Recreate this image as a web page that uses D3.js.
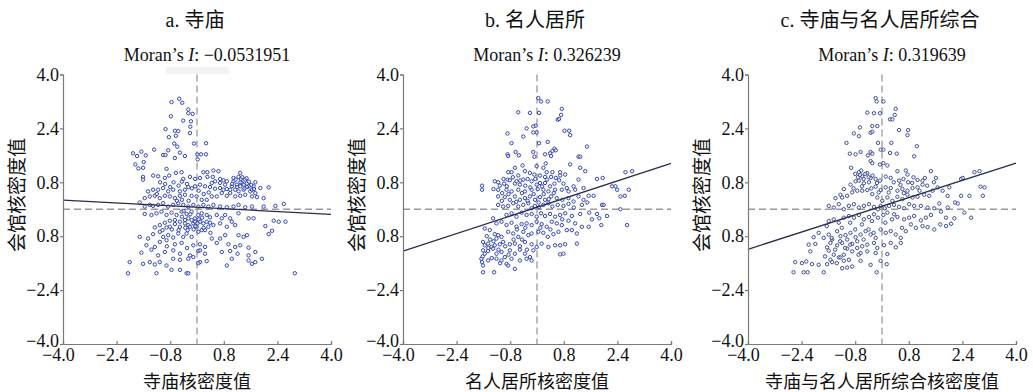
<!DOCTYPE html>
<html>
<head>
<meta charset="utf-8">
<script src="https://cdn.jsdelivr.net/npm/d3@7"></script>
<style>
  body { margin: 0; background: #fff; }
  svg text { font-family: "Liberation Serif", "Noto Sans CJK SC", serif; fill: #111; }
</style>
</head>
<body>
<svg id="chart" width="1033" height="392"></svg>
<script>
// values
const panelTitles = ['a. 寺庙', 'b. 名人居所', 'c. 寺庙与名人居所综合'];
const moranLabels = ['\u22120.0531951', '0.326239', '0.319639'];
const xTitles = ['寺庙核密度值', '名人居所核密度值', '寺庙与名人居所综合核密度值'];
const yTitle = '会馆核密度值';
const ticks = [-4, -2.4, -0.8, 0.8, 2.4, 4];
const xTickLabels = ['\u22124.0', '\u22122.4', '\u22120.8', '0.8', '2.4', '4.0'];
const yTickLabels = ['\u22124.0', '\u22122.4', '0.8', '0.8', '2.4', '4.0'];
const slopes = [-0.0531951, 0.326239, 0.319639];
const intercepts = [0.06, 0.06, 0.09];

const pointsA = [
  [-0.76,3.18],[-0.53,3.28],[-0.44,3.16],[-0.26,2.96],[-0.26,2.85],[-0.13,2.83],[-0.78,2.76],[-0.41,2.63],
  [-0.18,2.61],[-0.20,2.45],[-0.94,2.38],[-0.66,2.33],[-0.56,2.32],[-0.63,2.18],[-0.21,2.26],[-0.84,2.14],
  [0.27,1.96],[-0.09,1.95],[-0.68,1.95],[-0.59,1.86],[-0.51,1.68],[-0.86,1.75],[-1.28,1.77],[-1.91,1.66],
  [-1.79,1.58],[-1.66,1.71],[-1.53,1.60],[-1.84,1.33],[-1.75,1.21],[-1.61,1.23],[-1.59,1.40],[-1.01,1.61],
  [-0.94,1.61],[-0.66,1.52],[-0.36,1.58],[0.01,1.63],[0.12,1.63],[0.27,1.63],[0.02,1.48],[-0.91,1.20],
  [-1.61,0.96],[-1.61,0.88],[-1.31,1.00],[-1.16,0.98],[-0.96,0.93],[-0.83,1.00],[-0.63,1.08],[-0.46,1.10],
  [-0.41,0.90],[-0.21,0.96],[-0.06,0.90],[0.09,0.93],[0.19,1.10],[0.31,1.10],[0.49,1.15],[0.64,1.13],
  [0.31,0.96],[0.47,0.96],[0.69,0.90],[0.79,0.86],[0.89,0.83],[1.09,0.93],[1.29,1.08],[1.34,0.78],
  [1.44,0.88],[1.49,0.76],[1.54,0.68],[1.29,0.68],[1.74,0.80],[2.14,0.65],[1.89,0.63],[1.59,0.53],
  [1.39,0.58],[1.24,0.53],[1.19,0.73],[1.04,0.68],[0.89,0.60],[0.79,0.58],[0.69,0.63],[0.54,0.61],
  [0.39,0.66],[0.24,0.68],[0.09,0.73],[-0.06,0.68],[-0.26,0.66],[-0.36,0.58],[-0.51,0.53],[-0.71,0.58],
  [-0.86,0.53],[-1.01,0.63],[-1.16,0.58],[-1.31,0.58],[-1.46,0.53],[-1.56,0.33],[-1.41,0.38],[-1.26,0.40],
  [-1.11,0.33],[-0.96,0.40],[-0.81,0.38],[-0.66,0.33],[-0.51,0.40],[-0.36,0.43],[-0.16,0.40],[-0.01,0.38],
  [0.14,0.28],[0.29,0.28],[0.44,0.38],[0.59,0.38],[0.74,0.48],[0.89,0.40],[0.99,0.48],[1.14,0.38],
  [1.29,0.40],[1.44,0.43],[1.64,0.38],[1.79,0.36],[1.99,0.33],[-1.71,0.20],[-1.56,0.08],[-1.41,0.13],
  [-1.31,0.10],[-1.16,0.13],[-1.01,0.18],[-0.86,0.08],[-0.71,0.13],[-0.56,0.18],[-0.41,0.13],[-0.26,0.08],
  [-0.11,0.13],[0.04,0.08],[0.19,0.13],[0.34,0.08],[0.49,0.13],[0.69,0.08],[0.89,0.06],[1.09,0.08],
  [1.24,0.13],[1.44,0.06],[1.64,0.08],[1.99,0.08],[2.34,0.10],[2.59,0.16],[-1.56,-0.14],[-1.36,-0.17],
  [-1.21,-0.12],[-1.06,-0.07],[-0.91,-0.17],[-0.76,-0.10],[-0.61,-0.17],[-0.46,-0.07],[-0.31,-0.14],[-0.16,-0.07],
  [0.04,-0.17],[0.14,-0.12],[0.29,-0.17],[0.39,-0.24],[0.59,-0.17],[0.74,-0.27],[0.84,-0.17],[0.99,-0.27],
  [1.24,-0.12],[1.54,-0.27],[1.69,-0.27],[2.29,-0.34],[2.44,-0.37],[2.64,-0.37],[-1.26,-0.54],[-1.11,-0.47],
  [-0.96,-0.40],[-0.81,-0.52],[-0.66,-0.44],[-0.51,-0.52],[-0.36,-0.42],[-0.26,-0.47],[-0.11,-0.42],[-0.01,-0.52],
  [0.14,-0.62],[0.34,-0.52],[0.49,-0.47],[0.69,-0.42],[0.89,-0.52],[1.04,-0.37],[1.14,-0.47],[1.24,-0.77],
  [1.39,-0.82],[1.49,-0.77],[2.04,-0.50],[2.24,-0.64],[2.14,-0.74],[-1.71,-0.82],[-1.46,-0.87],[-1.31,-0.74],
  [-1.11,-0.67],[-1.01,-0.82],[-0.86,-0.77],[-0.71,-0.84],[-0.56,-0.72],[-0.41,-0.82],[-0.31,-0.72],[-0.16,-0.82],
  [0.04,-0.67],[0.24,-0.62],[0.44,-0.87],[0.69,-0.87],[0.84,-0.77],[-1.11,-0.97],[-0.91,-0.92],[-0.66,-1.04],
  [-0.46,-1.00],[-0.11,-1.07],[0.09,-1.04],[0.24,-1.12],[0.59,-1.00],[0.94,-1.04],[1.14,-1.12],[1.29,-1.07],
  [1.54,-1.14],[-1.51,-1.07],[-1.26,-1.12],[-1.66,-1.29],[-1.36,-1.20],[-1.16,-1.37],[-0.96,-1.27],[-0.71,-1.22],
  [-0.51,-1.32],[-0.21,-1.37],[0.04,-1.24],[0.24,-1.32],[0.74,-1.27],[0.99,-1.24],[1.21,-1.32],[1.54,-1.37],
  [1.74,-1.27],[-2.01,-1.57],[-1.61,-1.62],[-1.41,-1.57],[-1.26,-1.64],[-1.11,-1.57],[-0.91,-1.67],[-0.71,-1.47],
  [-0.51,-1.50],[-0.26,-1.47],[-0.11,-1.42],[0.09,-1.57],[0.29,-1.54],[0.89,-1.67],[1.04,-1.47],[1.54,-1.52],
  [1.64,-1.62],[1.74,-1.57],[1.94,-1.47],[-2.06,-1.90],[-1.21,-1.90],[-0.76,-1.80],[-0.51,-1.80],[-0.31,-1.90],
  [-0.26,-1.90],[0.04,-1.60],[0.09,-1.22],[2.92,-1.90],[-0.26,-0.27],[-0.16,-0.32],[-0.06,-0.37],[0.09,-0.37],
  [-0.21,-0.52],[-0.06,-0.27],[0.01,-0.42],[0.19,-0.42],[-0.36,-0.32],[-0.51,-0.37],[-0.66,-0.32],[-0.81,-0.34],
  [-0.91,-0.54],[-1.03,-0.62],[0.29,-0.37],[0.39,-0.40],[1.09,0.83],[1.24,0.96],[1.31,0.90],[1.39,0.73],
  [1.49,0.66],[1.64,0.58],[1.74,0.48],[1.69,0.68],[1.14,0.58],[0.99,0.58],[0.84,0.73],[0.69,0.78],
  [0.54,0.83],[0.44,0.78],
  [-0.45,-0.22],[-0.35,-0.55],[-0.20,-0.15],[-0.10,-0.60],[0.05,-0.30],[0.15,-0.25],[-0.28,-0.62],[-0.05,-0.50],
  [0.20,-0.55],[-0.40,-0.05],[1.15,0.88],[1.20,0.66],[1.35,0.95],[1.42,0.62],[1.55,0.82],[1.62,0.72],
  [1.05,0.75],[1.30,0.80],[1.48,0.92],[1.70,0.60],[-0.95,0.75],[-0.80,0.66],[-0.70,0.80],[-0.55,0.70],
  [-0.45,0.82],[-0.30,0.75],[-0.15,0.62],[-1.10,0.80],[-1.20,0.45],[-0.60,0.25],[-0.45,0.28],[-0.25,0.25],
  [0.05,0.55],[0.20,0.45],[0.35,0.50],[-0.75,-0.60],[-0.55,-0.62],[-0.90,-1.10],[-0.30,-1.15],[0.40,-0.70]
];

const pointsB = [
  [0.04,3.30],[0.12,3.20],[0.32,3.20],[-0.56,2.88],[-0.21,2.86],[0.06,2.86],[0.74,2.98],[0.72,2.80],
  [0.62,2.66],[0.66,2.68],[-0.04,2.48],[-0.11,2.46],[-0.01,2.28],[-0.31,2.40],[-0.88,2.25],[-0.41,2.16],
  [-0.11,2.28],[0.82,2.33],[0.96,2.33],[0.99,2.20],[-0.76,1.96],[0.06,1.96],[0.32,2.00],[0.52,1.80],
  [0.46,1.73],[0.39,1.66],[0.56,1.75],[0.42,1.58],[0.24,1.63],[-0.11,1.70],[-0.08,1.56],[-0.64,1.70],
  [-0.88,1.63],[-0.86,1.58],[-0.54,1.60],[1.49,1.86],[0.99,1.33],[1.24,1.56],[1.29,1.56],[1.29,1.23],
  [1.44,1.13],[-0.43,1.30],[-0.66,1.23],[0.26,1.36],[0.19,1.23],[-0.01,1.28],[-0.86,1.10],[-0.76,1.10],
  [-0.56,1.00],[-0.36,1.13],[-0.21,1.08],[-0.08,1.03],[0.09,1.00],[0.24,0.96],[0.42,0.96],[0.56,0.93],
  [0.69,1.00],[0.84,1.03],[0.69,1.10],[0.46,1.10],[0.29,1.10],[-1.64,0.70],[-1.64,0.58],[-1.26,0.83],
  [-1.16,0.80],[-1.11,0.70],[-1.16,0.58],[-0.98,0.76],[-0.88,0.88],[-0.81,0.86],[-0.66,0.76],[-0.51,0.73],
  [-0.61,0.83],[-0.41,0.88],[-0.28,0.90],[-0.16,0.83],[-0.01,0.73],[0.09,0.78],[0.24,0.78],[0.39,0.68],
  [0.52,0.76],[0.66,0.86],[0.79,0.76],[0.89,0.63],[1.09,0.68],[1.24,0.88],[1.39,0.63],[1.14,0.58],
  [0.94,0.53],[0.74,0.58],[0.54,0.58],[0.34,0.53],[0.19,0.58],[0.02,0.60],[-0.16,0.58],[-0.36,0.53],
  [-0.56,0.58],[-0.76,0.53],[-0.91,0.58],[-1.04,0.48],[-1.16,0.38],[-0.96,0.36],[-0.81,0.28],[-0.66,0.38],
  [-0.51,0.28],[-0.36,0.33],[-0.21,0.38],[-0.06,0.28],[0.09,0.36],[0.24,0.28],[0.42,0.38],[0.59,0.33],
  [0.76,0.28],[0.94,0.33],[1.09,0.23],[1.24,0.38],[1.39,0.28],[1.54,0.40],[1.69,0.40],[1.34,0.13],
  [1.79,0.90],[1.96,0.93],[2.24,0.68],[2.34,0.68],[2.39,0.58],[2.49,0.38],[2.62,0.40],[2.74,0.58],
  [2.64,1.10],[2.84,1.13],[1.94,0.13],[1.99,0.13],[2.49,0.00],[2.69,-0.47],[-1.16,0.13],[-1.01,0.08],
  [-0.86,0.10],[-0.71,0.18],[-0.56,0.08],[-0.41,0.13],[-0.26,0.18],[-0.16,0.03],[-0.06,0.10],[0.06,0.06],
  [0.19,0.13],[0.34,0.18],[0.46,0.08],[0.62,0.13],[0.79,0.10],[0.94,0.16],[-0.91,-0.17],[-0.76,-0.12],
  [-0.61,-0.22],[-0.46,-0.10],[-0.31,-0.17],[-0.16,-0.14],[-0.01,-0.22],[0.12,-0.12],[0.24,-0.20],[0.39,-0.14],
  [0.54,-0.22],[0.69,-0.17],[0.84,-0.12],[1.04,-0.20],[1.29,-0.14],[1.56,-0.10],[1.79,-0.14],[1.86,-0.27],
  [2.09,-0.20],[1.64,-0.30],[-1.31,-0.27],[-1.21,-0.42],[-1.06,-0.37],[-0.91,-0.47],[-0.76,-0.40],[-0.61,-0.52],
  [-0.46,-0.44],[-0.31,-0.42],[-0.16,-0.47],[-0.01,-0.37],[0.14,-0.44],[0.29,-0.52],[0.44,-0.37],[0.59,-0.42],
  [0.74,-0.47],[0.94,-0.34],[1.14,-0.42],[1.34,-0.52],[1.54,-0.52],[1.92,-0.47],[-1.56,-0.57],[-1.41,-0.62],
  [-1.26,-0.74],[-1.16,-0.77],[-1.06,-0.82],[-1.21,-0.87],[-0.86,-0.67],[-0.71,-0.72],[-0.56,-0.82],[-0.41,-0.67],
  [-0.26,-0.77],[-0.16,-0.72],[0.04,-0.67],[0.19,-0.70],[0.32,-0.82],[0.49,-0.74],[0.64,-0.67],[0.89,-0.62],
  [1.04,-0.62],[1.19,-0.72],[-1.61,-0.97],[-1.56,-1.07],[-1.46,-1.02],[-1.36,-1.12],[-1.26,-1.07],[-1.11,-1.04],
  [-1.01,-0.97],[-0.81,-1.04],[-0.66,-1.02],[-0.51,-1.10],[-0.36,-0.97],[-0.16,-1.04],[-0.01,-1.12],[0.14,-1.02],
  [0.34,-1.12],[0.54,-1.07],[0.69,-1.07],[0.84,-1.04],[1.19,-1.02],[-1.61,-1.22],[-1.56,-1.32],[-1.46,-1.24],
  [-1.31,-1.17],[-1.21,-1.32],[-1.06,-1.27],[-0.96,-1.42],[-0.81,-1.22],[-0.66,-1.32],[-0.51,-1.20],[-0.36,-1.32],
  [-0.21,-1.42],[-0.11,-1.22],[0.69,-1.34],[0.79,-1.32],[-1.66,-1.47],[-1.64,-1.57],[-1.61,-1.67],[-1.46,-1.52],
  [-1.21,-1.47],[-1.06,-1.52],[-0.91,-1.62],[-0.86,-1.67],[-0.76,-1.47],[-0.66,-1.77],[-0.51,-1.52],[-0.31,-1.47],
  [-0.16,-1.52],[-1.61,-1.87],[-1.28,-1.87],
  [-1.00,0.90],[-0.90,0.68],[-0.72,0.95],[-0.50,0.85],[-0.35,0.70],[-0.20,0.65],[-0.05,0.90],[0.15,0.68],
  [0.30,0.88],[-1.30,0.60],[-1.05,0.25],[-0.85,0.45],[-0.62,0.22],[-0.45,0.48],[-0.28,0.25],[-0.10,0.45],
  [0.05,0.20],[0.20,0.45],[0.35,0.30],[0.50,0.48],[-1.50,-0.80],[-1.40,-0.90],[-1.30,-0.95],[-1.45,-1.15],
  [-1.15,-1.20],[-0.95,-1.10],[-0.70,-0.90],[-0.45,-0.90],[-0.30,-1.20],[-1.62,-1.40],[-1.35,-1.45],[-1.10,-1.60],
  [-0.85,-1.35],[-0.60,-0.60],[-0.35,-0.55],[0.10,-0.55],[0.40,-0.60],[0.75,-0.30],[1.10,0.05],[1.50,0.20]
];

const pointsC = [
  [-0.19,3.30],[-0.16,3.20],[0.04,3.20],[-0.44,2.87],[-0.24,2.85],[-0.06,2.85],[0.41,2.98],[0.38,2.80],
  [0.24,2.67],[0.31,2.67],[-0.29,2.47],[-0.14,2.47],[-0.66,2.43],[-0.84,2.25],[-0.69,2.17],[-0.34,2.27],
  [-0.29,2.30],[0.51,2.35],[0.78,2.35],[0.76,2.20],[-1.06,1.97],[-0.12,1.97],[0.28,1.97],[1.04,1.87],
  [-0.04,1.77],[0.04,1.77],[-0.34,1.70],[-0.29,1.65],[-0.42,1.60],[-0.64,1.70],[-0.96,1.65],[-0.79,1.63],
  [0.24,1.67],[0.44,1.65],[0.96,1.57],[-0.34,1.43],[-0.29,1.37],[0.04,1.37],[0.16,1.30],[-0.06,1.33],
  [-0.92,1.23],[-0.62,1.15],[-0.69,1.10],[-0.44,1.07],[-0.59,0.97],[-0.34,0.93],[-0.19,0.90],[-0.06,0.85],
  [0.11,0.97],[0.26,0.93],[0.46,1.13],[0.71,1.15],[0.76,1.03],[0.64,0.90],[0.51,0.85],[0.78,0.80],
  [0.94,0.95],[1.06,0.87],[1.21,0.85],[1.28,0.93],[1.46,1.13],[1.61,0.93],[1.21,0.73],[1.06,0.65],
  [0.91,0.63],[0.76,0.55],[0.61,0.60],[0.46,0.55],[0.26,0.63],[0.11,0.65],[-0.04,0.57],[-0.19,0.67],
  [-0.39,0.80],[-0.54,0.77],[-0.69,0.85],[-0.79,0.83],[-0.94,0.73],[-1.14,0.60],[-1.24,0.43],[-1.39,0.33],
  [-1.19,0.35],[-1.04,0.40],[-0.89,0.50],[-0.74,0.55],[-0.59,0.55],[-0.44,0.57],[-0.29,0.45],[-0.14,0.35],
  [0.01,0.25],[0.16,0.35],[0.31,0.25],[0.46,0.37],[0.61,0.30],[0.76,0.43],[0.91,0.35],[1.06,0.37],
  [1.26,0.43],[1.41,0.40],[1.51,0.55],[1.66,0.65],[1.81,0.55],[1.96,0.40],[2.01,0.65],[2.36,0.90],
  [2.41,0.93],[2.76,1.10],[2.91,1.13],[3.06,0.65],[2.94,0.67],[3.01,0.40],[2.61,0.40],[2.36,0.40],
  [2.18,0.20],[1.71,0.17],[1.96,0.05],[2.26,0.17],[2.46,-0.10],[2.66,-0.25],[-1.59,0.10],[-1.44,0.05],
  [-1.29,0.15],[-1.14,0.00],[-0.99,0.10],[-0.84,0.15],[-0.69,0.05],[-0.54,0.10],[-0.39,0.15],[-0.24,0.07],
  [-0.12,0.00],[-0.04,0.10],[0.08,0.03],[0.21,0.10],[0.36,0.13],[0.51,0.07],[0.66,0.03],[0.81,0.15],
  [0.96,0.10],[1.16,0.10],[1.36,0.05],[1.56,0.03],[1.76,-0.07],[1.91,-0.25],[2.06,-0.43],[2.16,-0.27],
  [-1.59,-0.35],[-1.44,-0.30],[-1.29,-0.40],[-1.14,-0.25],[-0.99,-0.20],[-0.84,-0.25],[-0.69,-0.17],[-0.54,-0.30],
  [-0.39,-0.23],[-0.24,-0.15],[-0.12,-0.25],[0.04,-0.17],[0.16,-0.10],[0.36,-0.15],[0.46,-0.23],[0.66,-0.30],
  [0.81,-0.25],[0.96,-0.20],[1.16,-0.33],[1.31,-0.25],[1.46,-0.17],[1.21,-0.50],[1.36,-0.53],[1.56,-0.60],
  [1.74,-0.45],[1.91,-0.50],[-2.04,-0.83],[-1.89,-0.70],[-1.74,-0.85],[-1.59,-0.75],[-1.49,-0.90],[-1.34,-0.65],
  [-1.24,-0.80],[-1.09,-0.77],[-0.94,-0.70],[-0.79,-0.83],[-0.64,-0.75],[-0.49,-0.65],[-0.34,-0.75],[-0.19,-0.85],
  [-0.04,-0.60],[0.11,-0.70],[0.26,-0.65],[0.41,-0.75],[0.56,-0.85],[0.71,-0.65],[0.86,-0.45],[1.01,-0.55],
  [-2.19,-1.05],[-1.99,-1.03],[-1.64,-1.13],[-1.54,-1.00],[-1.34,-1.07],[-1.19,-1.00],[-1.04,-0.90],[-0.89,-1.03],
  [-0.74,-0.95],[-0.59,-1.10],[-0.44,-1.05],[-0.24,-1.00],[-0.14,-1.15],[0.06,-1.07],[0.26,-1.00],[0.41,-1.13],
  [0.56,-1.00],[-2.14,-1.25],[-1.59,-1.23],[-1.44,-1.35],[-1.29,-1.43],[-1.14,-1.35],[-1.04,-1.17],[-0.89,-1.25],
  [-0.74,-1.15],[-0.64,-1.30],[-0.44,-1.25],[-0.19,-1.30],[0.16,-1.33],[-1.54,-1.50],[-1.24,-1.43],[-1.14,-1.53],
  [-0.99,-1.50],[-0.64,-1.53],[-0.34,-1.65],[-0.04,-1.53],[-2.59,-1.57],[-2.39,-1.60],[-2.26,-1.55],[-2.09,-1.63],
  [-1.89,-1.65],[-1.64,-1.63],[-1.49,-1.57],[-1.19,-1.75],[-1.04,-1.73],[-0.89,-1.70],[-2.64,-1.87],[-2.34,-1.87],
  [-2.22,-1.87],[-1.74,-1.87],[-0.16,-1.87],[0.14,-1.63],
  [-0.80,1.05],[-0.72,0.95],[-0.65,1.02],[-0.55,0.90],[-0.50,1.05],[-0.40,0.95],[-0.28,1.00],[-0.15,0.78],
  [-0.85,0.62],[-0.60,0.68],[-0.32,0.62],[-0.10,0.50],[0.20,0.50],[0.55,0.72],[0.90,0.78],[1.12,0.55],
  [1.35,0.70],[1.55,0.80],[0.35,0.80],[0.65,0.48],[-1.50,-0.85],[-1.40,-1.20],[-1.25,-0.95],[-1.10,-1.15],
  [-0.95,-1.05],[-0.80,-0.60],[-0.70,-1.35],[-0.55,-0.90],[-0.40,-0.60],[-0.25,-0.70],[-1.65,-0.50],[-1.20,-0.55],
  [-0.95,-0.40],[-0.60,-0.45],[-0.30,-0.35],[0.10,-0.40],[0.30,-0.30],[0.60,-0.55],[-1.70,-1.40],[-1.35,-1.60]
];

const panelPoints = [pointsA, pointsB, pointsC];

// layout
const svg = d3.select('#chart');
const panelLeft = [63, 403, 748];
const plotW = 268;
const plotTop = 74.5, plotBottom = 344;
const pointColor = ['#3346b8', '#3346b8', '#3e4f98'];

panelPoints.forEach((pts, i) => {
    const x = d3.scaleLinear().domain([-4, 4]).range([panelLeft[i], panelLeft[i] + plotW]);
    const y = d3.scaleLinear().domain([-4, 4]).range([plotBottom, plotTop]);
    const cx = (panelLeft[i] + panelLeft[i] + plotW) / 2;
    const g = svg.append('g');

    g.append('text')
        .attr('x', cx - 2).attr('y', 27)
        .attr('text-anchor', 'middle')
        .attr('font-size', 20)
        .text(panelTitles[i]);

    const sub = g.append('text')
        .attr('x', cx + 10).attr('y', 61)
        .attr('text-anchor', 'middle')
        .attr('font-size', 18);
    sub.append('tspan').text('Moran\u2019s ');
    sub.append('tspan').attr('font-style', 'italic').text('I');
    sub.append('tspan').text(': ' + moranLabels[i]);

    if (i === 0) {
        // faint smudge under the first subtitle
        g.append('rect').attr('x', 166).attr('y', 67).attr('width', 63).attr('height', 7)
            .attr('fill', '#f4f2f2');
    }

    // dashed mean lines
    g.append('line')
        .attr('x1', x(-4)).attr('x2', x(4)).attr('y1', y(0)).attr('y2', y(0))
        .attr('stroke', '#9a9a9a').attr('stroke-width', 1.3).attr('stroke-dasharray', '7,4');
    g.append('line')
        .attr('x1', x(0)).attr('x2', x(0)).attr('y1', y(4)).attr('y2', y(-4))
        .attr('stroke', '#9a9a9a').attr('stroke-width', 1.3).attr('stroke-dasharray', '7,4');

    g.selectAll('circle.pt')
        .data(pts)
        .enter().append('circle')
        .attr('class', 'pt')
        .attr('cx', d => x(d[0]))
        .attr('cy', d => y(d[1]))
        .attr('r', 1.7)
        .attr('fill', '#fff')
        .attr('fill-opacity', 0.5)
        .attr('stroke', pointColor[i])
        .attr('stroke-width', 1);

    // regression line
    g.append('line')
        .attr('x1', x(-4)).attr('y1', y(intercepts[i] + slopes[i] * -4))
        .attr('x2', x(4)).attr('y2', y(intercepts[i] + slopes[i] * 4))
        .attr('stroke', '#2b2b4d').attr('stroke-width', 1.3);

    const xAxis = d3.axisBottom(x)
        .tickValues(ticks)
        .tickSizeInner(-3).tickSizeOuter(-3).tickPadding(4)
        .tickFormat((d, k) => xTickLabels[k]);
    const xg = g.append('g').attr('transform', `translate(0,${plotBottom})`).call(xAxis);

    const yAxis = d3.axisLeft(y)
        .tickValues(ticks)
        .tickSizeInner(3).tickSizeOuter(3).tickPadding(1)
        .tickFormat((d, k) => yTickLabels[k]);
    const yg = g.append('g').attr('transform', `translate(${panelLeft[i]},0)`).call(yAxis);

    [xg, yg].forEach(a => {
        a.selectAll('path, line').attr('stroke', '#7a7a7a').attr('stroke-width', 1.2);
        a.selectAll('text')
            .attr('font-family', '"Liberation Serif", serif')
            .attr('font-size', 18)
            .attr('fill', '#111');
    });
    // center the number part on the tick, the minus sign hangs to the left
    xg.selectAll('text').attr('dx', (d) => d < 0 ? -5 : 0);
    // lowest y label sits a little above its tick, clear of the x labels
    yg.selectAll('text').filter(d => d === -4).attr('y', -3);

    g.append('text')
        .attr('x', cx).attr('y', 388)
        .attr('text-anchor', 'middle')
        .attr('font-family', '"Noto Sans CJK SC", sans-serif')
        .attr('font-size', 18)
        .text(xTitles[i]);

    g.append('text')
        .attr('transform', `translate(${panelLeft[i] - 39},195) rotate(-90)`)
        .attr('text-anchor', 'middle')
        .attr('font-family', '"Noto Sans CJK SC", sans-serif')
        .attr('font-size', 19)
        .text(yTitle);
});
</script>
</body>
</html>
